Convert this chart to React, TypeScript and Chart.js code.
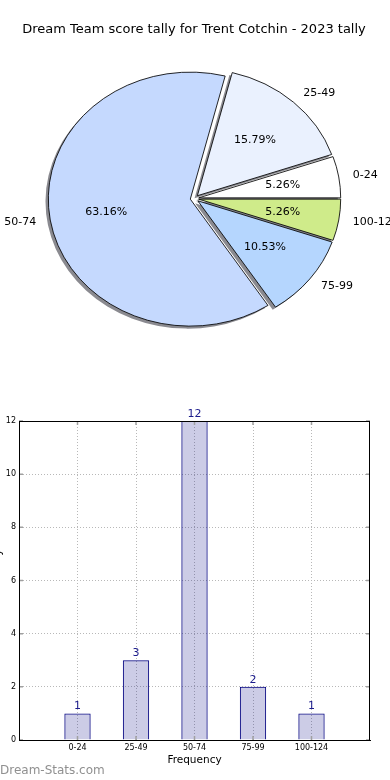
import React, { useEffect, useRef } from 'react';
import { Chart, registerables } from 'chart.js';

Chart.register(...registerables);

const TITLE = 'Dream Team score tally for Trent Cotchin - 2023 tally';
const categories = ['0-24', '25-49', '50-74', '75-99', '100-124'];
const tallies = [1, 3, 12, 2, 1];
const pieColors = ['#ffffff', '#eaf1fe', '#c5d9fe', '#b5d6fe', '#cfeb8a'];
const yTickValues = [0, 2, 4, 6, 8, 10, 12];
const Y_LABEL = 'Score Tally';
const X_LABEL = 'Frequency';
const WATERMARK = 'Dream-Stats.com';

const FONT = '"DejaVu Sans", sans-serif';
const RX = 142;
const RY = 127;
const SX = RX / RY;
const EXPLODE = 3.8;

const piePlugin = {
  id: 'piePaint',
  beforeDatasetsDraw(chart: any) {
    const ctx = chart.ctx;
    const arcs = chart.getDatasetMeta(0).data;
    if (!arcs.length) return false;
    const cx = arcs[0].x;
    const cy = arcs[0].y;
    ctx.save();
    ctx.translate(cx, cy);
    ctx.scale(SX, 1);
    ctx.translate(-cx, -cy);
    arcs.forEach((a: any) => {
      const mid = (a.startAngle + a.endAngle) / 2;
      ctx.save();
      ctx.translate(Math.cos(mid) * EXPLODE - 2.8 / SX, Math.sin(mid) * EXPLODE + 2.5);
      ctx.beginPath();
      ctx.moveTo(a.x, a.y);
      ctx.arc(a.x, a.y, a.outerRadius, a.startAngle, a.endAngle);
      ctx.closePath();
      ctx.fillStyle = 'rgba(60,60,70,0.6)';
      ctx.fill();
      ctx.restore();
    });
    arcs.forEach((a: any) => {
      const mid = (a.startAngle + a.endAngle) / 2;
      ctx.save();
      ctx.translate(Math.cos(mid) * EXPLODE, Math.sin(mid) * EXPLODE);
      a.draw(ctx, chart.chartArea);
      ctx.restore();
    });
    ctx.restore();
    return false;
  },
  afterDraw(chart: any) {
    const ctx = chart.ctx;
    const arcs = chart.getDatasetMeta(0).data;
    const labels = chart.data.labels;
    const data = chart.data.datasets[0].data as number[];
    const total = data.reduce((s: number, v: number) => s + v, 0);
    ctx.save();
    ctx.fillStyle = '#000';
    ctx.font = `13px ${FONT}`;
    ctx.textAlign = 'center';
    ctx.textBaseline = 'middle';
    ctx.fillText(TITLE, 194, 30);
    ctx.font = `11px ${FONT}`;
    arcs.forEach((a: any, i: number) => {
      const mid = (a.startAngle + a.endAngle) / 2;
      const ux = Math.cos(mid);
      const uy = Math.sin(mid);
      const ex = ux * EXPLODE * SX;
      const ey = uy * EXPLODE;
      const lx = a.x + ux * 1.1 * RX + ex;
      const ly = a.y + uy * 1.1 * RY + ey;
      ctx.textAlign = ux > 0 ? 'left' : 'right';
      ctx.fillText(String(labels[i]), lx, ly);
      const px = a.x + ux * 0.6 * RX + ex;
      const py = a.y + uy * 0.6 * RY + ey;
      ctx.textAlign = 'center';
      ctx.fillText(((data[i] / total) * 100).toFixed(2) + '%', px, py);
    });
    ctx.restore();
  },
};

const barPlugin = {
  id: 'barDecor',
  afterDatasetsDraw(chart: any) {
    const { ctx, chartArea: ca, scales } = chart;
    const meta = chart.getDatasetMeta(0);
    ctx.save();
    ctx.strokeStyle = '#a0a0a0';
    ctx.lineWidth = 1.5;
    categories.forEach((_, i) => {
      const x = scales.x.getPixelForValue(i + 1);
      ctx.beginPath();
      ctx.moveTo(x, ca.top);
      ctx.lineTo(x, ca.top + 4);
      ctx.moveTo(x, ca.bottom);
      ctx.lineTo(x, ca.bottom - 4);
      ctx.stroke();
    });
    yTickValues.forEach((v) => {
      const y = scales.y.getPixelForValue(v);
      ctx.beginPath();
      ctx.moveTo(ca.left, y);
      ctx.lineTo(ca.left + 4, y);
      ctx.moveTo(ca.right, y);
      ctx.lineTo(ca.right - 4, y);
      ctx.stroke();
    });
    ctx.strokeStyle = '#000';
    ctx.lineWidth = 1;
    ctx.strokeRect(ca.left + 0.5, ca.top + 0.5, ca.width - 1, ca.height);
    ctx.font = `11px ${FONT}`;
    ctx.fillStyle = '#1c1c8c';
    ctx.textAlign = 'center';
    ctx.textBaseline = 'alphabetic';
    meta.data.forEach((bar: any, i: number) => {
      ctx.fillText(String(tallies[i]), bar.x, bar.y - 4);
    });
    ctx.restore();
  },
  afterDraw(chart: any) {
    const { ctx, chartArea: ca } = chart;
    ctx.save();
    ctx.fillStyle = '#000';
    ctx.font = `10.5px ${FONT}`;
    ctx.textAlign = 'center';
    ctx.textBaseline = 'middle';
    ctx.fillText(X_LABEL, (ca.left + ca.right) / 2, 360);
    ctx.save();
    ctx.translate(-0.5, (ca.top + ca.bottom) / 2);
    ctx.rotate(-Math.PI / 2);
    ctx.textBaseline = 'alphabetic';
    ctx.font = `12px ${FONT}`;
    ctx.fillText(Y_LABEL, 0, 0);
    ctx.restore();
    ctx.fillStyle = '#909090';
    ctx.font = `12px ${FONT}`;
    ctx.textAlign = 'left';
    ctx.fillText(WATERMARK, 0, 371);
    ctx.restore();
  },
};

export default function App() {
  const pieRef = useRef<HTMLCanvasElement>(null);
  const barRef = useRef<HTMLCanvasElement>(null);

  useEffect(() => {
    const pieData = [...tallies].reverse();
    const pieLabels = [...categories].reverse();
    const pieCols = [...pieColors].reverse();
    const pie = new Chart(pieRef.current!, {
      type: 'pie',
      data: {
        labels: pieLabels,
        datasets: [
          {
            data: pieData,
            backgroundColor: pieCols,
            borderColor: '#000',
            borderWidth: 0.8,
            radius: RY,
            offset: 0,
            hoverOffset: 0,
          } as any,
        ],
      },
      options: {
        responsive: false,
        animation: false,
        devicePixelRatio: 1,
        rotation: 90,
        radius: RY,
        layout: { padding: { left: 0, right: 1, top: 0, bottom: 0 } },
        plugins: { legend: { display: false }, tooltip: { enabled: false }, title: { display: false } },
        events: [],
      } as any,
      plugins: [piePlugin],
    });

    const bar = new Chart(barRef.current!, {
      type: 'bar',
      data: {
        datasets: [
          {
            data: tallies.map((v, i) => ({ x: i + 1, y: v })),
            backgroundColor: 'rgba(0,0,128,0.2)',
            borderColor: '#000080',
            borderWidth: 1,
            barPercentage: 0.45,
            categoryPercentage: 1,
          } as any,
        ],
      },
      options: {
        responsive: false,
        animation: false,
        devicePixelRatio: 1,
        events: [],
        layout: { padding: { left: 0, right: 20, top: 21, bottom: 0 } },
        plugins: { legend: { display: false }, tooltip: { enabled: false } },
        scales: {
          x: {
            type: 'linear',
            offset: false,
            min: 0,
            max: categories.length + 1,
            afterFit: (s: any) => {
              s.height = 40;
            },
            afterBuildTicks: (s: any) => {
              s.ticks = Array.from({ length: categories.length + 2 }, (_, i) => ({ value: i }));
            },
            ticks: {
              autoSkip: false,
              maxRotation: 0,
              padding: 3,
              color: '#000',
              font: { family: 'DejaVu Sans', size: 8 },
              callback: (v: any) => categories[Number(v) - 1] ?? '',
            },
            grid: {
              offset: false,
              drawTicks: false,
              color: (c: any) => (c.tick && (c.tick.value === 0 || c.tick.value === categories.length + 1) ? 'rgba(0,0,0,0)' : '#b8b8b8'),
              lineWidth: 1,
            },
            border: { display: true, color: '#000', width: 1, dash: [1, 2] },
          },
          y: {
            type: 'linear',
            min: 0,
            max: 12,
            afterFit: (s: any) => {
              s.width = 19;
            },
            afterBuildTicks: (s: any) => {
              s.ticks = yTickValues.map((v) => ({ value: v }));
            },
            ticks: {
              padding: 3,
              color: '#000',
              font: { family: 'DejaVu Sans', size: 8 },
            },
            grid: {
              drawTicks: false,
              color: (c: any) => (c.tick && (c.tick.value === 0 || c.tick.value === 12) ? 'rgba(0,0,0,0)' : '#b8b8b8'),
              lineWidth: 1,
            },
            border: { display: true, color: '#000', width: 1, dash: [1, 2] },
          },
        },
      } as any,
      plugins: [barPlugin],
    });

    return () => {
      pie.destroy();
      bar.destroy();
    };
  }, []);

  return (
    <div style={{ position: 'absolute', left: 0, top: 0, width: 390, height: 780, background: '#fff', overflow: 'hidden' }}>
      <canvas ref={pieRef} width={390} height={397} style={{ position: 'absolute', left: 0, top: 0, width: 390, height: 397 }} />
      <canvas ref={barRef} width={390} height={380} style={{ position: 'absolute', left: 0, top: 400, width: 390, height: 380 }} />
    </div>
  );
}
